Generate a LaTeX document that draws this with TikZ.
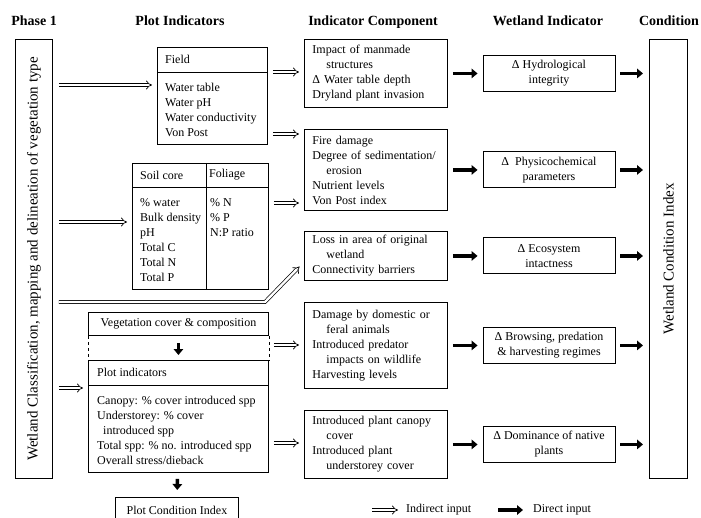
\documentclass[tikz,border=0pt]{standalone}
\usepackage{fontspec}
\setmainfont{Liberation Serif}
\usetikzlibrary{arrows.meta}

\tikzset{
	box/.style={draw, line width=0.9pt, inner sep=0pt},
	txt/.style={align=left, inner sep=0pt, font=\fontsize{12}{15}\selectfont},
	head/.style={anchor=base, font=\fontsize{14}{16}\selectfont\bfseries},
	side/.style={rotate=90, font=\fontsize{15}{18}\selectfont},
	indirect/.style={double, double distance=2.4pt, line width=0.7pt, -{Implies}, shorten <=5pt, shorten >=5pt},
	direct/.style={line width=3.4pt, -{Triangle[length=6pt,width=9.5pt]}, shorten <=5pt, shorten >=5pt}
}

\begin{document}
\begin{tikzpicture}[x=1pt, y=-1pt]
	\useasboundingbox (0,0) rectangle (701,518);

	% headings
	\node[head] (phasehead) at (34,26) {Phase 1};
	\node[head] (plothead) at (180,26) {Plot Indicators};
	\node[head] (comphead) at (373,26) {Indicator Component};
	\node[head] (wethead) at (548,26) {Wetland Indicator};
	\node[head] (condhead) at (669,26) {Condition};

	% phase 1
	\node[box, minimum width=37pt, minimum height=439pt, anchor=north west] (phase) at (15,39) {};
	\node[side] (phasetext) at (phase.center) {Wetland Classification, mapping and delineation of vegetation type};

	% plot indicators
	\node[box, minimum width=110pt, minimum height=97pt, anchor=north west] (field) at (157,47) {};
	\draw[line width=0.9pt] (157,72) -- (267,72);
	\node[txt, anchor=west] (fieldhead) at (165,59.5) {Field};
	\node[txt, anchor=north west] (fieldlist) at (165,83) {Water table\\Water pH\\Water conductivity\\Von Post};

	\node[box, minimum width=136pt, minimum height=126pt, anchor=north west] (soil) at (132,163) {};
	\draw[line width=0.9pt] (132,187) -- (268,187);
	\draw[line width=0.9pt] (206,163) -- (206,289);
	\node[txt, anchor=west] (soilcore) at (140,175) {Soil core};
	\node[txt, anchor=west] (foliage) at (209,175) {Foliage};
	\node[txt, anchor=north west] (soillist) at (140,198) {\% water\\Bulk density\\pH\\Total C\\Total N\\Total P};
	\node[txt, anchor=north west] (folialist) at (210,198) {\% N\\\% P\\N:P ratio};

	\node[box, txt, minimum width=180pt, minimum height=23pt, anchor=north west] (veg) at (88,312) {Vegetation cover \& composition};
	\node[box, minimum width=180pt, minimum height=112pt, anchor=north west] (plotind) at (88,360) {};
	\draw[line width=0.9pt] (88,385) -- (268,385);
	\node[txt, anchor=west] (plotindhead) at (97,372.5) {Plot indicators};
	\node[txt, anchor=north west] (plotindlist) at (97,396) {Canopy: \% cover introduced spp\\Understorey: \% cover\\\hspace*{6pt}introduced spp\\Total spp: \% no. introduced spp\\Overall stress/dieback};
	\draw[dashed, thin] (veg.south west) -- (plotind.north west);
	\draw[dashed, thin] (veg.south east) -- (plotind.north east);
	\draw[direct, shorten <=7pt] (veg) -- (plotind);

	\node[box, txt, minimum width=123pt, minimum height=25pt, anchor=north west] (pci) at (115,497) {Plot Condition Index};
	\draw[direct, shorten <=6pt, shorten >=7pt] (plotind) -- (pci);

	% indicator components
	\node[box, txt, text width=127pt, inner xsep=8pt, minimum height=68pt, anchor=north west] (comp1) at (304,39) {Impact of manmade\\\hspace*{14pt}structures\\Δ Water table depth\\Dryland plant invasion};
	\node[box, txt, text width=127pt, inner xsep=8pt, minimum height=81pt, anchor=north west] (comp2) at (304,129) {Fire damage\\Degree of sedimentation/\\\hspace*{14pt}erosion\\Nutrient levels\\Von Post index};
	\node[box, txt, text width=127pt, inner xsep=8pt, minimum height=49pt, anchor=north west] (comp3) at (304,231) {Loss in area of original\\\hspace*{14pt}wetland\\Connectivity barriers};
	\node[box, txt, text width=127pt, inner xsep=8pt, minimum height=86pt, anchor=north west] (comp4) at (304,302) {Damage by domestic or\\\hspace*{14pt}feral animals\\Introduced predator\\\hspace*{14pt}impacts on wildlife\\Harvesting levels};
	\node[box, txt, text width=127pt, inner xsep=8pt, minimum height=68pt, anchor=north west] (comp5) at (304,410) {Introduced plant canopy\\\hspace*{14pt}cover\\Introduced plant\\\hspace*{14pt}understorey cover};

	% wetland indicators
	\node[box, txt, align=center, minimum width=132pt, minimum height=36pt] (wet1) at (comp1 -| 549,0) {Δ Hydrological\\integrity};
	\node[box, txt, align=center, minimum width=132pt, minimum height=36pt] (wet2) at (comp2 -| 549,0) {Δ\ \ Physicochemical\\parameters};
	\node[box, txt, align=center, minimum width=132pt, minimum height=36pt] (wet3) at (comp3 -| 549,0) {Δ Ecosystem\\intactness};
	\node[box, txt, align=center, minimum width=132pt, minimum height=36pt] (wet4) at (comp4 -| 549,0) {Δ Browsing, predation\\\& harvesting regimes};
	\node[box, txt, align=center, minimum width=132pt, minimum height=36pt] (wet5) at (comp5 -| 549,0) {Δ Dominance of native\\plants};

	% condition
	\node[box, minimum width=38pt, minimum height=439pt, anchor=north west] (cond) at (649,39) {};
	\node[side] (condtext) at (cond.center) {Wetland Condition Index};

	% indirect inputs
	\draw[indirect, shorten <=6pt] (phase.east |- 0,85) -- (field.west |- 0,85);
	\draw[indirect, shorten <=6pt] (phase.east |- 0,222) -- (soil.west |- 0,222);
	\draw[indirect, shorten <=6pt] (phase.east |- 0,388) -- (plotind.west |- 0,388);
	\coordinate (bend) at (265,302);
	\draw[indirect, shorten <=6pt] (phase.east |- bend) -- (bend) -- ([xshift=-1pt, yshift=-7pt]comp3.west);
	\draw[indirect] (field.east |- 0,72) -- (comp1.west |- 0,72);
	\draw[indirect] (field.east |- 0,134) -- (comp2.west |- 0,134);
	\draw[indirect] (soil.east |- 0,203) -- (comp2.west |- 0,203);
	\draw[indirect] (veg.east |- 0,345) -- (comp4.west |- 0,345);
	\draw[indirect] (plotind.east |- 0,443) -- (comp5.west |- 0,443);

	% direct inputs
	\foreach \i in {1,...,5}
{
	\draw[direct] (comp\i) -- (wet\i);
	\draw[direct, shorten >=6pt] (wet\i) -- (cond.west |- wet\i);
}

	% legend
	\coordinate (legind) at (372,510);
	\node[txt, anchor=west] (indirectlab) at (406,510) {Indirect input};
	\draw[indirect, shorten <=0pt, shorten >=8pt] (legind) -- (indirectlab);
	\coordinate (legdir) at (498,510);
	\node[txt, anchor=west] (directlab) at (533,510) {Direct input};
	\draw[direct, shorten <=0pt, shorten >=10pt] (legdir) -- (directlab);

\end{tikzpicture}
\end{document}
